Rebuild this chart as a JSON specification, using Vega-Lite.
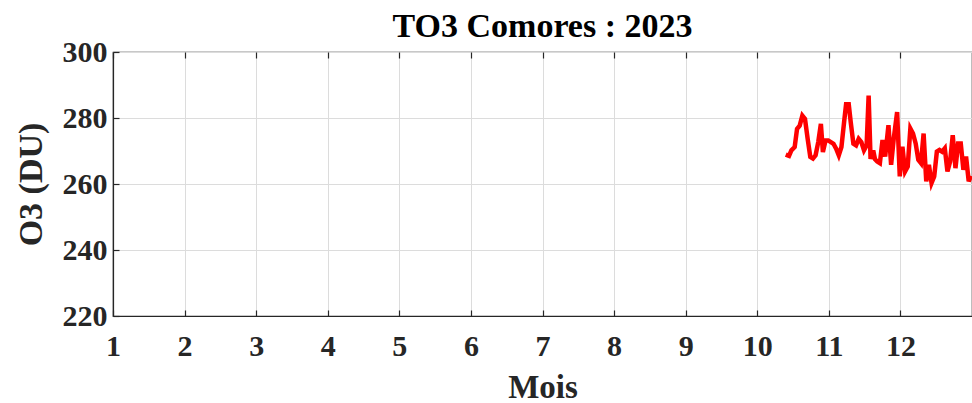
{
  "$schema": "https://vega.github.io/schema/vega-lite/v6.json",
  "width": 859,
  "height": 264,
  "autosize": {"type": "none"},
  "padding": {"left": 113, "top": 52, "right": 0, "bottom": 87},
  "background": "white",
  "config": {
    "view": {"stroke": "#262626", "strokeWidth": 1.2},
    "font": "Liberation Serif"
  },
  "title": {
    "text": "TO3 Comores : 2023",
    "font": "Liberation Serif",
    "fontSize": 34,
    "fontWeight": "bold",
    "color": "#000000",
    "offset": -7,
    "anchor": "middle"
  },
  "data": {
    "values": [
      {"mois": 10.398, "o3": 268.9},
      {"mois": 10.444, "o3": 268.5},
      {"mois": 10.477, "o3": 270.2},
      {"mois": 10.523, "o3": 271.2},
      {"mois": 10.556, "o3": 276.7},
      {"mois": 10.593, "o3": 277.7},
      {"mois": 10.630, "o3": 280.7},
      {"mois": 10.667, "o3": 279.7},
      {"mois": 10.704, "o3": 273.7},
      {"mois": 10.741, "o3": 268.2},
      {"mois": 10.778, "o3": 267.7},
      {"mois": 10.815, "o3": 268.7},
      {"mois": 10.852, "o3": 272.7},
      {"mois": 10.889, "o3": 278.2},
      {"mois": 10.917, "o3": 269.7},
      {"mois": 10.954, "o3": 273.2},
      {"mois": 10.991, "o3": 273.2},
      {"mois": 11.028, "o3": 272.7},
      {"mois": 11.065, "o3": 272.2},
      {"mois": 11.102, "o3": 270.7},
      {"mois": 11.139, "o3": 268.7},
      {"mois": 11.176, "o3": 271.2},
      {"mois": 11.213, "o3": 278.7},
      {"mois": 11.241, "o3": 284.2},
      {"mois": 11.278, "o3": 284.2},
      {"mois": 11.306, "o3": 278.7},
      {"mois": 11.343, "o3": 272.2},
      {"mois": 11.380, "o3": 271.7},
      {"mois": 11.417, "o3": 273.7},
      {"mois": 11.454, "o3": 272.7},
      {"mois": 11.491, "o3": 270.2},
      {"mois": 11.528, "o3": 271.7},
      {"mois": 11.556, "o3": 286.8},
      {"mois": 11.583, "o3": 267.6},
      {"mois": 11.620, "o3": 270.2},
      {"mois": 11.645, "o3": 267.5},
      {"mois": 11.676, "o3": 266.8},
      {"mois": 11.713, "o3": 266.3},
      {"mois": 11.750, "o3": 273.3},
      {"mois": 11.787, "o3": 268.3},
      {"mois": 11.833, "o3": 277.8},
      {"mois": 11.870, "o3": 265.8},
      {"mois": 11.907, "o3": 273.8},
      {"mois": 11.954, "o3": 281.8},
      {"mois": 11.991, "o3": 262.3},
      {"mois": 12.028, "o3": 271.3},
      {"mois": 12.065, "o3": 263.8},
      {"mois": 12.102, "o3": 265.3},
      {"mois": 12.139, "o3": 276.8},
      {"mois": 12.176, "o3": 275.3},
      {"mois": 12.213, "o3": 272.3},
      {"mois": 12.250, "o3": 267.3},
      {"mois": 12.287, "o3": 266.3},
      {"mois": 12.324, "o3": 275.3},
      {"mois": 12.361, "o3": 260.8},
      {"mois": 12.398, "o3": 265.8},
      {"mois": 12.435, "o3": 260.3},
      {"mois": 12.472, "o3": 262.3},
      {"mois": 12.509, "o3": 269.8},
      {"mois": 12.546, "o3": 270.3},
      {"mois": 12.583, "o3": 269.8},
      {"mois": 12.620, "o3": 270.8},
      {"mois": 12.657, "o3": 263.8},
      {"mois": 12.694, "o3": 266.8},
      {"mois": 12.731, "o3": 274.8},
      {"mois": 12.769, "o3": 264.8},
      {"mois": 12.806, "o3": 272.3},
      {"mois": 12.843, "o3": 272.3},
      {"mois": 12.880, "o3": 264.3},
      {"mois": 12.917, "o3": 268.3},
      {"mois": 12.954, "o3": 260.8},
      {"mois": 12.986, "o3": 262.5}
    ]
  },
  "layer": [
    {
      "mark": {"type": "line", "color": "#ff0000", "strokeWidth": 4.5, "clip": true},
      "encoding": {
        "x": {
          "field": "mois", "type": "quantitative",
          "scale": {"domain": [1, 13], "nice": false, "zero": false},
          "axis": {
            "orient": "bottom",
            "title": "Mois",
            "values": [1, 2, 3, 4, 5, 6, 7, 8, 9, 10, 11, 12],
            "format": "d",
            "grid": true, "gridColor": "#dcdcdc", "gridWidth": 1,
            "domain": true, "domainColor": "#262626", "domainWidth": 1.2,
            "ticks": true, "tickSize": -6, "tickColor": "#262626", "tickWidth": 1.2,
            "labelFont": "Liberation Serif", "labelFontSize": 30, "labelFontWeight": "bold", "labelColor": "#262626",
            "labelPadding": 21, "labelFlush": false, "labelOverlap": false,
            "titleFont": "Liberation Serif", "titleFontSize": 33, "titleFontWeight": "bold", "titleColor": "#262626",
            "titlePadding": 10
          }
        },
        "y": {
          "field": "o3", "type": "quantitative",
          "scale": {"domain": [220, 300], "nice": false, "zero": false},
          "axis": {
            "title": "O3 (DU)",
            "values": [220, 240, 260, 280, 300],
            "grid": true, "gridColor": "#dcdcdc", "gridWidth": 1,
            "domain": true, "domainColor": "#262626", "domainWidth": 1.2,
            "ticks": true, "tickSize": -6, "tickColor": "#262626", "tickWidth": 1.2,
            "labelFont": "Liberation Serif", "labelFontSize": 30, "labelFontWeight": "bold", "labelColor": "#262626",
            "labelPadding": 12, "labelFlush": false, "labelOverlap": false,
            "titleFont": "Liberation Serif", "titleFontSize": 34, "titleFontWeight": "bold", "titleColor": "#262626",
            "titlePadding": 14
          }
        }
      }
    },
    {
      "mark": {"type": "rule", "opacity": 0},
      "encoding": {
        "x": {
          "field": "mois", "type": "quantitative",
          "scale": {"domain": [1, 13], "nice": false, "zero": false},
          "axis": {
            "orient": "top", "title": null, "labels": false,
            "values": [1, 2, 3, 4, 5, 6, 7, 8, 9, 10, 11, 12],
            "grid": false, "domain": false,
            "ticks": true, "tickSize": -6, "tickColor": "#262626", "tickWidth": 1.2
          }
        }
      }
    }
  ],
  "resolve": {"axis": {"x": "independent"}}
}
